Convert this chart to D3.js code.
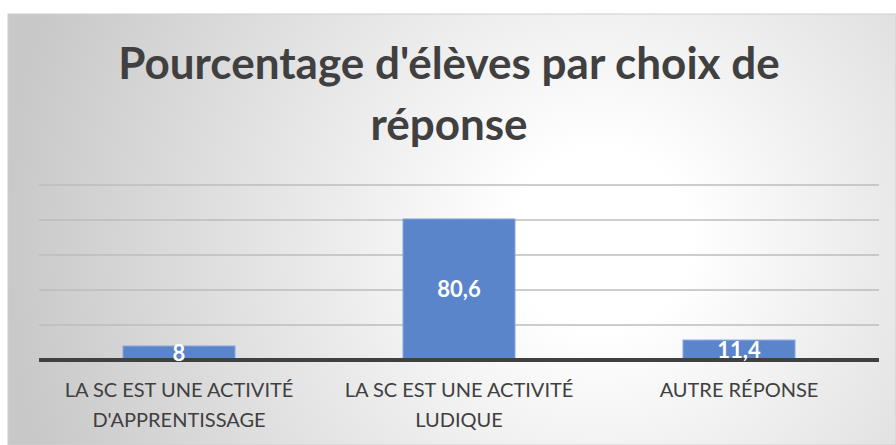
<!DOCTYPE html>
<html>
<head>
<meta charset="utf-8">
<script src="https://cdn.jsdelivr.net/npm/d3@7"></script>
<style>
  html, body { margin: 0; padding: 0; background: #fff; }
  svg { display: block; }
</style>
</head>
<body>
<div id="chart"></div>
<script>
// Data
const titleLines = ["Pourcentage d'élèves par choix de", "réponse"];
const categories = [
    ["LA SC EST UNE ACTIVITÉ", "D'APPRENTISSAGE"],
    ["LA SC EST UNE ACTIVITÉ", "LUDIQUE"],
    ["AUTRE RÉPONSE"]
];
const values = [8, 80.6, 11.4];
const valueLabels = ["8", "80,6", "11,4"];
const gridTicks = [20, 40, 60, 80, 100];

const W = 896, H = 445;
const margin = { top: 185, right: 17, bottom: 85, left: 39 };
const plotW = W - margin.left - margin.right;
const plotH = H - margin.top - margin.bottom;

const svg = d3.select("#chart")
    .append("svg")
    .attr("width", W)
    .attr("height", H);

// Background radial gradient
const defs = svg.append("defs");
const grad = defs.append("radialGradient")
    .attr("id", "bg")
    .attr("gradientUnits", "userSpaceOnUse")
    .attr("cx", 600).attr("cy", 240).attr("r", 600);
grad.append("stop").attr("offset", "0%").attr("stop-color", "#ffffff");
grad.append("stop").attr("offset", "15%").attr("stop-color", "#ffffff");
grad.append("stop").attr("offset", "100%").attr("stop-color", "#c8c8c8");

svg.append("rect")
    .attr("x", 8).attr("y", 14)
    .attr("width", W - 8).attr("height", H - 14)
    .attr("fill", "url(#bg)")
    .attr("stroke", "#d0d0d0")
    .attr("stroke-width", 1);

const g = svg.append("g")
    .attr("transform", `translate(${margin.left}, ${margin.top})`);

const x = d3.scaleBand()
    .domain(d3.range(categories.length))
    .range([0, plotW])
    .paddingInner(0.6)
    .paddingOuter(0.3);

const y = d3.scaleLinear()
    .domain([0, 100])
    .range([plotH, 0]);

// Gridlines
g.append("g")
    .selectAll("line")
    .data(gridTicks)
    .enter()
    .append("line")
    .attr("x1", 0).attr("x2", plotW)
    .attr("y1", (d) => y(d)).attr("y2", (d) => y(d))
    .attr("stroke", "#bdbdbd")
    .attr("stroke-width", 1.5);

// Bars
g.append("g")
    .selectAll("rect")
    .data(values)
    .enter()
    .append("rect")
    .attr("x", (d, i) => x(i))
    .attr("y", (d) => y(d))
    .attr("width", x.bandwidth())
    .attr("height", (d) => y(0) - y(d))
    .attr("fill", "#5a85cb")
    .attr("stroke", "#8aa7dc")
    .attr("stroke-width", 1);

// Baseline
g.append("line")
    .attr("x1", 0).attr("x2", plotW)
    .attr("y1", y(0)).attr("y2", y(0))
    .attr("stroke", "#404040")
    .attr("stroke-width", 4);

// Value labels (centered in bar)
g.append("g")
    .selectAll("text")
    .data(values)
    .enter()
    .append("text")
    .attr("x", (d, i) => x(i) + x.bandwidth() / 2)
    .attr("y", (d) => (y(d) + y(0)) / 2)
    .attr("dy", "0.35em")
    .attr("text-anchor", "middle")
    .style("font-family", "Lato, 'Open Sans', sans-serif")
    .style("font-weight", "bold")
    .style("font-size", "22px")
    .style("fill", "#ffffff")
    .text((d, i) => valueLabels[i]);

// Category labels
const cat = g.append("g")
    .selectAll("text")
    .data(categories)
    .enter()
    .append("text")
    .attr("x", (d, i) => x(i) + x.bandwidth() / 2)
    .attr("y", plotH + 37)
    .attr("text-anchor", "middle")
    .style("font-family", "Lato, 'Open Sans', sans-serif")
    .style("font-size", "20px")
    .style("fill", "#404040");

cat.selectAll("tspan")
    .data((d) => d)
    .enter()
    .append("tspan")
    .attr("x", function () { return this.parentNode.getAttribute("x"); })
    .attr("dy", (d, i) => (i === 0 ? 0 : 30))
    .text((d) => d);

// Title
svg.append("g")
    .selectAll("text")
    .data(titleLines)
    .enter()
    .append("text")
    .attr("x", 449)
    .attr("y", (d, i) => 79 + i * 61)
    .attr("text-anchor", "middle")
    .style("font-family", "Lato, 'Open Sans', sans-serif")
    .style("font-weight", "bold")
    .style("font-size", "44px")
    .style("fill", "#404040")
    .text((d) => d);
</script>
</body>
</html>
